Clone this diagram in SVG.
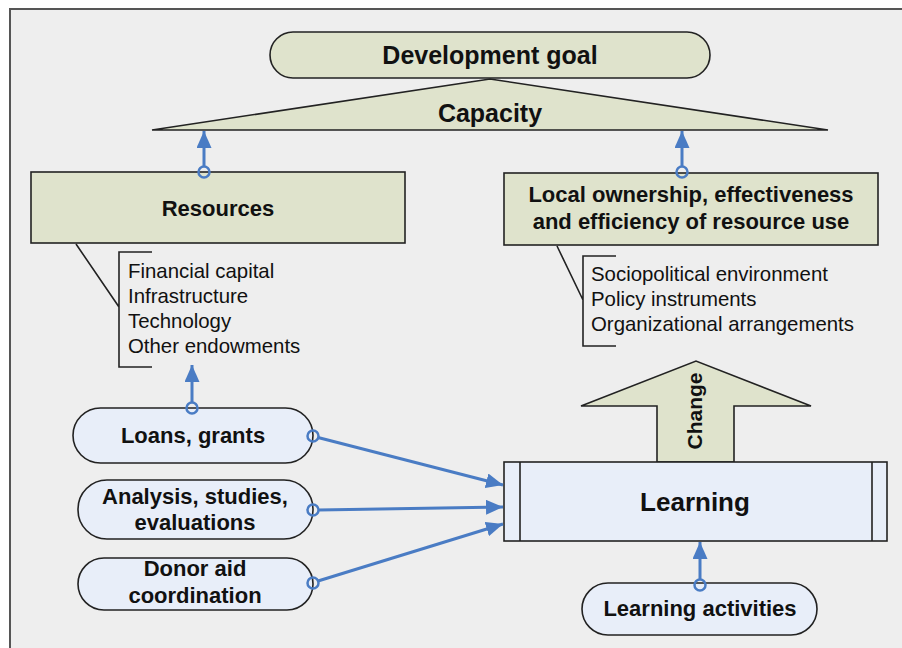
<svg xmlns="http://www.w3.org/2000/svg" width="902" height="648" viewBox="0 0 902 648">
<style>
.olive{fill:#dfe3cc;stroke:#222;stroke-width:1.6}
.blue{fill:#e8eef9;stroke:#222;stroke-width:1.6}
.b{font-family:"Liberation Sans",Arial,sans-serif;font-weight:bold;fill:#111;text-anchor:middle}
.r{font-family:"Liberation Sans",Arial,sans-serif;font-size:20.4px;fill:#111}
.bk{fill:none;stroke:#222;stroke-width:1.6}
.con{stroke:#4a7cc4;stroke-width:3;fill:none}
.dot{stroke:#4a7cc4;stroke-width:2.5;fill:none}
</style>
<defs>
<marker id="ah" markerUnits="userSpaceOnUse" markerWidth="17" markerHeight="15" refX="17" refY="7.5" orient="auto">
<path d="M0,0 L17,7.5 L0,15 z" fill="#4a7cc4"/>
</marker>
</defs>
<rect x="0" y="0" width="902" height="648" fill="#ffffff"/>
<rect id="frame" x="10" y="9" width="900" height="660" fill="#eeeeee" stroke="#555" stroke-width="2"/>

<g id="goal">
<rect class="olive" x="270" y="32" width="440" height="46" rx="23"/>
<text class="b" x="490" y="64" font-size="25">Development goal</text>
</g>
<g id="capacity">
<polygon class="olive" points="490,79 828,130 152,130"/>
<text class="b" x="490" y="122" font-size="25">Capacity</text>
</g>
<g id="resources">
<rect class="olive" x="31" y="172" width="374" height="71"/>
<text class="b" x="218" y="216" font-size="22">Resources</text>
</g>
<g id="resources-list">
<path class="bk" d="M76,244 L119,307 M152,252 L119,252 L119,367 L152,367"/>
<text class="r" x="128" y="278">Financial capital</text>
<text class="r" x="128" y="303">Infrastructure</text>
<text class="r" x="128" y="328">Technology</text>
<text class="r" x="128" y="353">Other endowments</text>
</g>
<g id="ownership">
<rect class="olive" x="504" y="173" width="374" height="72"/>
<text class="b" x="691" y="202" font-size="22">Local ownership, effectiveness</text>
<text class="b" x="691" y="229" font-size="22">and efficiency of resource use</text>
</g>
<g id="ownership-list">
<path class="bk" d="M557,246 L583,300 M616,256 L583,256 L583,346 L616,346"/>
<text class="r" x="591" y="281">Sociopolitical environment</text>
<text class="r" x="591" y="306">Policy instruments</text>
<text class="r" x="591" y="331">Organizational arrangements</text>
</g>
<g id="change">
<polygon class="olive" points="657,462 657,406 581,406 696,361 811,406 734,406 734,462"/>
<text class="b" font-size="21" transform="translate(702,411) rotate(-90)">Change</text>
</g>
<g id="learning">
<rect class="blue" x="504" y="462" width="383" height="79"/>
<path class="bk" d="M520,462 V541 M872,462 V541"/>
<text class="b" x="695" y="511" font-size="26">Learning</text>
</g>
<g id="loans">
<rect class="blue" x="73" y="408" width="240" height="55" rx="27.5"/>
<text class="b" x="193" y="443" font-size="22">Loans, grants</text>
</g>
<g id="analysis">
<rect class="blue" x="78" y="480" width="235" height="59" rx="29"/>
<text class="b" x="195" y="504" font-size="22">Analysis, studies,</text>
<text class="b" x="195" y="530" font-size="22">evaluations</text>
</g>
<g id="donor">
<rect class="blue" x="78" y="558" width="235" height="52" rx="26"/>
<text class="b" x="195" y="576" font-size="22">Donor aid</text>
<text class="b" x="195" y="603" font-size="22">coordination</text>
</g>
<g id="activities">
<rect class="blue" x="582" y="583" width="235" height="52" rx="26"/>
<text class="b" x="700" y="616" font-size="22">Learning activities</text>
</g>

<g id="connectors">
<line class="con" x1="204" y1="167" x2="204" y2="131" marker-end="url(#ah)"/>
<circle class="dot" cx="204" cy="172" r="5.5"/>
<line class="con" x1="682" y1="167" x2="682" y2="131" marker-end="url(#ah)"/>
<circle class="dot" cx="682" cy="172" r="5.5"/>
<line class="con" x1="192" y1="403" x2="192" y2="365" marker-end="url(#ah)"/>
<circle class="dot" cx="192" cy="408" r="5.5"/>
<line class="con" x1="318" y1="437.5" x2="503" y2="485" marker-end="url(#ah)"/>
<circle class="dot" cx="313" cy="436" r="5.5"/>
<line class="con" x1="318.5" y1="510" x2="503" y2="507" marker-end="url(#ah)"/>
<circle class="dot" cx="313" cy="510" r="5.5"/>
<line class="con" x1="318" y1="581" x2="503" y2="524" marker-end="url(#ah)"/>
<circle class="dot" cx="313" cy="583" r="5.5"/>
<line class="con" x1="700" y1="580" x2="700" y2="542" marker-end="url(#ah)"/>
<circle class="dot" cx="700" cy="585" r="5.5"/>
</g>
</svg>
